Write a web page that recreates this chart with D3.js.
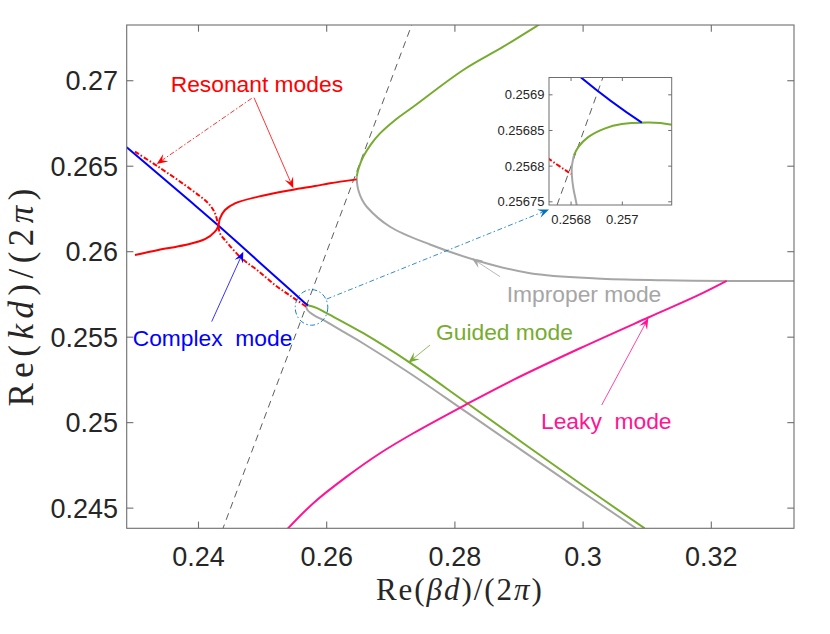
<!DOCTYPE html>
<html><head><meta charset="utf-8">
<script src="https://cdn.jsdelivr.net/npm/d3@7"></script>
<style>body{margin:0;background:#fff}svg{display:block}text{white-space:pre}</style>
</head><body>
<script>
// ---------- data ----------
const complexX = [0.2288,0.23399,0.23867,0.24309,0.24725,0.25193,0.25500,0.25684,0.257076];
const complexY = [0.26611,0.26446,0.26296,0.26153,0.26014,0.25857,0.25754,0.256924,0.256861];

const resonantAX = [0.23009,0.23373,0.23894,0.24153,0.24257,0.24309,0.24335,0.24413,0.24674,0.24933,0.25193,0.25454,0.25671,0.25680];
const resonantAY = [0.26585,0.26497,0.26361,0.26283,0.26225,0.26150,0.26108,0.26068,0.25961,0.25887,0.25805,0.25737,0.256811,0.256789];

const resonantBX = [0.23009,0.23373,0.23789,0.24101,0.24257,0.24309,0.24335,0.24413,0.24569,0.24933,0.25454,0.25817,0.26051,0.26468];
const resonantBY = [0.25981,0.26010,0.26039,0.26073,0.26117,0.26150,0.26195,0.26244,0.26283,0.26322,0.26361,0.26384,0.26400,0.26423];

const guidedUpX = [0.26468,0.26500,0.26571,0.26690,0.26832,0.27050,0.27351,0.28131,0.28755,0.29276,0.29340];
const guidedUpY = [0.26439,0.26490,0.26556,0.26628,0.26692,0.26765,0.26848,0.27063,0.27199,0.27320,0.27335];

const guidedLowX = [0.256811,0.256829,0.256868,0.256933,0.256998,0.257076,0.257193,0.2585,0.26000,0.26571,0.27273,0.28209,0.29952,0.3096];
const guidedLowY = [0.256815,0.256827,0.256841,0.256853,0.256859,0.256861,0.256858,0.25670,0.25640,0.25523,0.25357,0.25109,0.24644,0.24382];

const improperUpX = [0.26468,0.26474,0.26493,0.26550,0.26624,0.26988,0.27612,0.28392,0.29172,0.30212,0.31251,0.32240,0.33300];
const improperUpY = [0.26439,0.26400,0.26361,0.26305,0.26263,0.26146,0.26042,0.25943,0.25874,0.25843,0.25833,0.25829,0.25829];

const improperLowX = [0.256811,0.256803,0.256803,0.256809,0.256822,0.25683,0.25700,0.25739,0.25817,0.26000,0.26285,0.26571,0.27273,0.28209,0.29952,0.30825];
const improperLowY = [0.256815,0.256799,0.256788,0.256769,0.2567455,0.25672,0.25659,0.25644,0.25625,0.25589,0.25526,0.25463,0.25295,0.25054,0.24604,0.24382];

const leakyX = [0.25385,0.25791,0.26312,0.26832,0.27351,0.28158,0.28911,0.29952,0.31017,0.31772,0.32240];
const leakyY = [0.24377,0.24529,0.24684,0.24821,0.24938,0.25103,0.25250,0.25435,0.25615,0.25741,0.25829];

const lightLineX = [0.2430,0.2740];
const lightLineY = [0.2430,0.2740];

const xTicks = [0.24,0.26,0.28,0.30,0.32];
const xTickLabels = ["0.24","0.26","0.28","0.3","0.32"];
const yTicks = [0.245,0.25,0.255,0.26,0.265,0.27];
const yTickLabels = ["0.245","0.25","0.255","0.26","0.265","0.27"];
const insetXTicks = [0.2568,0.257];
const insetXTickLabels = ["0.2568","0.257"];
const insetYTicks = [0.25675,0.2568,0.25685,0.2569];
const insetYTickLabels = ["0.25675","0.2568","0.25685","0.2569"];

// annotations (data coordinates): [tailX, tailY, tipX, tipY]
const resonantArrowA = [0.24830,0.26897,0.23348,0.26513];
const resonantArrowB = [0.24866,0.26901,0.25479,0.26371];
const complexArrow = [0.24206,0.25591,0.24699,0.26000];
const guidedArrow = [0.27612,0.25454,0.27273,0.25351];
const improperArrow = [0.28704,0.25854,0.28262,0.25962];
const leakyArrow = [0.30290,0.25103,0.31017,0.25611];
const insetPointer = [0.26000,0.25723,0.29468,0.26247];
const zoomCircle = [0.25763,0.25674,0.00254,0.00104]; // cx, cy, rx, ry

// ---------- drawing ----------
const W = 830, H = 634;
const C = {blue:"#0000FF", red:"#FF0000", green:"#77AC30", gray:"#A6A6A6", mag:"#FF1493", axis:"#6E6E6E", txt:"#262626", ptr:"#0072BD"};
const sans = "'Liberation Sans', Arial, Helvetica, sans-serif";
const serif = "'Liberation Serif', 'Times New Roman', serif";

const svg = d3.select("body").append("svg").attr("width", W).attr("height", H);
svg.append("rect").attr("width", W).attr("height", H).attr("fill", "#fff");

const x = d3.scaleLinear().domain([0.2288, 0.3329]).range([126.7, 794]);
const y = d3.scaleLinear().domain([0.24382, 0.27326]).range([528.3, 25]);

const defs = svg.append("defs");
defs.append("clipPath").attr("id","mainClip").append("rect")
  .attr("x", x.range()[0]).attr("y", y.range()[1])
  .attr("width", x.range()[1]-x.range()[0]).attr("height", y.range()[0]-y.range()[1]);

const zip = (xs, ys) => xs.map((v,i)=>[v, ys[i]]);
const series = [
  {xs: lightLineX, ys: lightLineY, color:"#333", w:0.8, dash:"7,5", inset:true},
  {xs: improperUpX, ys: improperUpY, color:C.gray, w:2},
  {xs: improperLowX, ys: improperLowY, color:C.gray, w:2, inset:true},
  {xs: guidedUpX, ys: guidedUpY, color:C.green, w:2},
  {xs: guidedLowX, ys: guidedLowY, color:C.green, w:2, inset:true},
  {xs: leakyX, ys: leakyY, color:C.mag, w:2},
  {xs: complexX, ys: complexY, color:C.blue, w:2, inset:true},
  {xs: resonantAX, ys: resonantAY, color:C.red, w:2, dash:"5,2,1.5,2", inset:true},
  {xs: resonantBX, ys: resonantBY, color:C.red, w:2},
];

function drawSeries(g, sx, sy, list, wScale) {
  const line = d3.line().x(d=>sx(d[0])).y(d=>sy(d[1])).curve(d3.curveCatmullRom.alpha(0.5));
  list.forEach(s => {
    g.append("path").attr("d", line(zip(s.xs, s.ys)))
      .attr("fill","none").attr("stroke", s.color).attr("stroke-width", s.w*wScale)
      .attr("stroke-dasharray", s.dash || null)
      .attr("stroke-linejoin","round");
  });
}

const plot = svg.append("g").attr("clip-path","url(#mainClip)");
drawSeries(plot, x, y, series, 1);

// zoom circle (dash-dot ellipse)
plot.append("ellipse")
  .attr("cx", x(zoomCircle[0])).attr("cy", y(zoomCircle[1]))
  .attr("rx", x(zoomCircle[0]+zoomCircle[2]) - x(zoomCircle[0]))
  .attr("ry", y(zoomCircle[1]) - y(zoomCircle[1]+zoomCircle[3]))
  .attr("fill","none").attr("stroke", C.ptr).attr("stroke-width",0.9).attr("stroke-dasharray","5,2.5,1.5,2.5");

// ---------- main axes ----------
const ax = svg.append("g");
const [X0,X1] = x.range(), [Y1,Y0] = [y.range()[0], y.range()[1]];
ax.append("rect").attr("x",X0).attr("y",Y0).attr("width",X1-X0).attr("height",Y1-Y0)
  .attr("fill","none").attr("stroke",C.axis).attr("stroke-width",1.1);
const tl = 6.7;
xTicks.forEach((t,i) => {
  const px = x(t);
  ax.append("line").attr("x1",px).attr("x2",px).attr("y1",Y1).attr("y2",Y1-tl).attr("stroke",C.axis).attr("stroke-width",1.1);
  ax.append("line").attr("x1",px).attr("x2",px).attr("y1",Y0).attr("y2",Y0+tl).attr("stroke",C.axis).attr("stroke-width",1.1);
  ax.append("text").attr("x",px).attr("y",565.7).attr("text-anchor","middle")
    .attr("font-family",sans).attr("font-size",27).attr("fill",C.txt).text(xTickLabels[i]);
});
yTicks.forEach((t,i) => {
  const py = y(t);
  ax.append("line").attr("x1",X0).attr("x2",X0+tl).attr("y1",py).attr("y2",py).attr("stroke",C.axis).attr("stroke-width",1.1);
  ax.append("line").attr("x1",X1).attr("x2",X1-tl).attr("y1",py).attr("y2",py).attr("stroke",C.axis).attr("stroke-width",1.1);
  ax.append("text").attr("x",118).attr("y",py).attr("dy","0.35em").attr("text-anchor","end")
    .attr("font-family",sans).attr("font-size",27).attr("fill",C.txt).text(yTickLabels[i]);
});

// axis labels
function mathLabel(sel, parts) {
  parts.forEach(p => sel.append("tspan").attr("font-style", p[1] ? "italic" : "normal").text(p[0]));
}
const xl = svg.append("text").attr("x", 458.9).attr("y", 600).attr("text-anchor","middle")
  .attr("font-family", serif).attr("font-size", 31).attr("fill", C.txt)
  .attr("textLength", 166).attr("lengthAdjust","spacing");
mathLabel(xl, [["Re(",0],["β",1],["d",1],[")/(2",0],["π",1],[")",0]]);
const yl = svg.append("text").attr("transform","translate(32.5,297.5) rotate(-90)").attr("text-anchor","middle")
  .attr("font-family", serif).attr("font-size", 35).attr("fill", C.txt)
  .attr("textLength", 218).attr("lengthAdjust","spacing");
mathLabel(yl, [["Re(",0],["k",1],["d",1],[")/(2",0],["π",1],[")",0]]);

// ---------- annotations ----------
function arrow(a, color, dash, sw) {
  const x1 = x(a[0]), y1 = y(a[1]), x2 = x(a[2]), y2 = y(a[3]);
  const dx = x2-x1, dy = y2-y1, len = Math.hypot(dx,dy);
  const ux = dx/len, uy = dy/len, px = -uy, py = ux;
  const L = 11, Wd = 9;
  const bx = x2 - ux*L*0.6, by = y2 - uy*L*0.6;
  svg.append("line").attr("x1",x1).attr("y1",y1).attr("x2",bx).attr("y2",by)
    .attr("stroke",color).attr("stroke-width",sw).attr("stroke-dasharray",dash||null);
  const pts = [[x2,y2],[x2-ux*L+px*Wd/2, y2-uy*L+py*Wd/2],[bx,by],[x2-ux*L-px*Wd/2, y2-uy*L-py*Wd/2]];
  svg.append("path").attr("d","M"+pts.map(p=>p.join(",")).join("L")+"Z").attr("fill",color).attr("stroke","none");
}
arrow(resonantArrowA, C.red, "5,2,1.5,2", 0.8);
arrow(resonantArrowB, C.red, null, 0.8);
arrow(complexArrow, C.blue, null, 0.8);
arrow(guidedArrow, C.green, null, 0.8);
arrow(improperArrow, C.gray, null, 0.8);
arrow(leakyArrow, C.mag, null, 0.8);
arrow(insetPointer, C.ptr, "5,2.5,1.5,2.5", 0.8);

function label(txt, px, py, color) {
  svg.append("text").attr("x",px).attr("y",py).attr("font-family",sans).attr("font-size",22.8)
    .attr("fill",color).text(txt);
}
label("Resonant modes", 170.7, 92.3, C.red);
label("Complex  mode", 132.7, 345.7, C.blue);
label("Guided mode", 436, 340, C.green);
label("Improper mode", 506.7, 301.7, C.gray);
label("Leaky  mode", 541, 429, C.mag);

// ---------- inset ----------
const ix = d3.scaleLinear().domain([0.256714, 0.2571926]).range([549, 671.7]);
const iy = d3.scaleLinear().domain([0.2567455, 0.2569243]).range([205, 77.5]);
defs.append("clipPath").attr("id","insetClip").append("rect")
  .attr("x", 549).attr("y", 77.5).attr("width", 122.7).attr("height", 127.5);
const ig = svg.append("g");
ig.append("rect").attr("x",549).attr("y",77.5).attr("width",122.7).attr("height",127.5).attr("fill","#fff");
drawSeries(ig.append("g").attr("clip-path","url(#insetClip)"), ix, iy, series.filter(s=>s.inset), 1);
ig.append("rect").attr("x",549).attr("y",77.5).attr("width",122.7).attr("height",127.5)
  .attr("fill","none").attr("stroke",C.axis).attr("stroke-width",1);
const itl = 3.5;
insetXTicks.forEach((t,i)=>{
  const px = ix(t);
  ig.append("line").attr("x1",px).attr("x2",px).attr("y1",205).attr("y2",205-itl).attr("stroke",C.axis);
  ig.append("line").attr("x1",px).attr("x2",px).attr("y1",77.5).attr("y2",77.5+itl).attr("stroke",C.axis);
  ig.append("text").attr("x",px).attr("y",223.5).attr("text-anchor","middle")
    .attr("font-family",sans).attr("font-size",13).attr("fill",C.txt).text(insetXTickLabels[i]);
});
insetYTicks.forEach((t,i)=>{
  const py = iy(t);
  ig.append("line").attr("x1",549).attr("x2",549+itl).attr("y1",py).attr("y2",py).attr("stroke",C.axis);
  ig.append("line").attr("x1",671.7).attr("x2",671.7-itl).attr("y1",py).attr("y2",py).attr("stroke",C.axis);
  ig.append("text").attr("x",544.5).attr("y",py).attr("dy","0.35em").attr("text-anchor","end")
    .attr("font-family",sans).attr("font-size",13).attr("fill",C.txt).text(insetYTickLabels[i]);
});
</script>
</body></html>
